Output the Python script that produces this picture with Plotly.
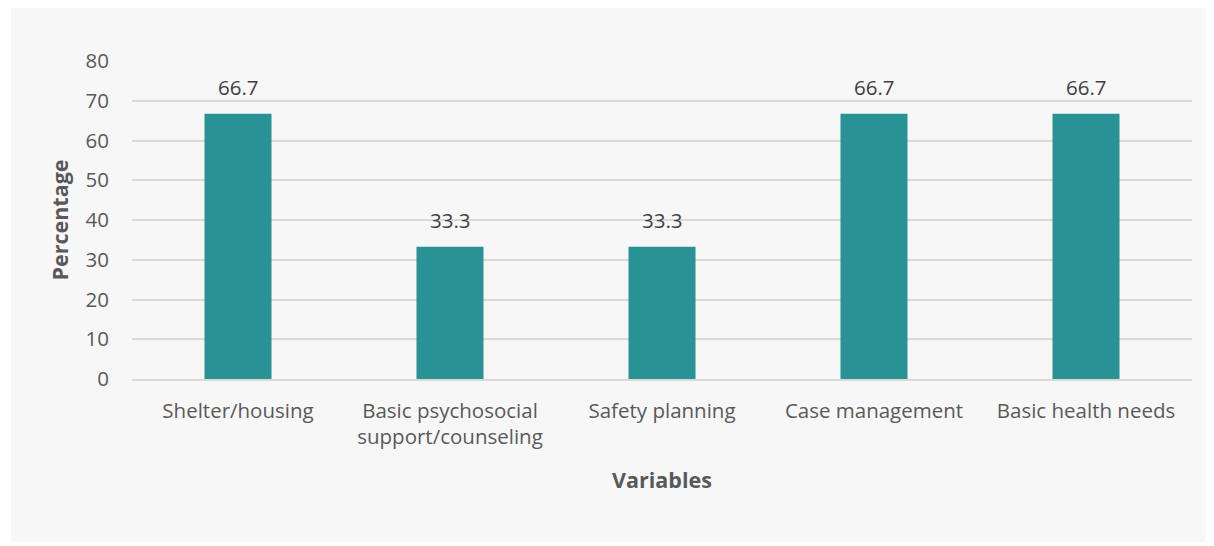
import plotly.graph_objects as go

categories = ["Shelter/housing", "Basic psychosocial<br>support/counseling",
              "Safety planning", "Case management", "Basic health needs"]
percentages = [66.7, 33.3, 33.3, 66.7, 66.7]
y_ticks = [0, 10, 20, 30, 40, 50, 60, 70, 80]

BAR_COLOR = "#289294"
FONT = "Open Sans"

fig = go.Figure()
fig.add_trace(go.Bar(
    x=categories,
    y=percentages,
    marker_color=BAR_COLOR,
    marker_line_width=0,
    hovertemplate='%{x}: %{y}<extra></extra>',
))

# value labels above the bars
for cat, val in zip(categories, percentages):
    fig.add_annotation(
        x=cat, y=val, text=f"{val:.1f}",
        showarrow=False, yanchor="bottom", yshift=11,
        font=dict(family=FONT, size=20.5, color="#404040"),
    )

# light grey chart area with a thin white border around it
fig.add_shape(
    type="rect", xref="paper", yref="paper",
    x0=-0.1142, x1=1.0151, y0=-0.5126, y1=1.173,
    fillcolor="#f7f7f7", line_width=0, layer="below",
)

# the page body adds an 8px margin, so the figure is a bit smaller
fig.update_layout(
    width=1206,
    height=538,
    margin=dict(l=124, r=22, t=53, b=167),
    paper_bgcolor="white",
    plot_bgcolor="rgba(0,0,0,0)",
    bargap=0.684,
    showlegend=False,
    font=dict(family=FONT, size=20.5, color="#595959"),
    xaxis=dict(
        title=dict(text="<b>Variables</b>", font=dict(size=21.5, color="#595959"), standoff=24),
        showgrid=False,
        showline=True, linecolor="#d9d9d9", linewidth=2,
        ticks="outside", ticklen=12, tickcolor="rgba(0,0,0,0)",
        tickfont=dict(size=20.5, color="#595959"),
    ),
    yaxis=dict(
        title=dict(text="<b>Percentage</b>", font=dict(size=21.5, color="#595959"), standoff=10),
        range=[0, 80],
        tickvals=y_ticks,
        showgrid=True, gridcolor="#d9d9d9", gridwidth=2,
        zeroline=False,
        ticks="outside", ticklen=18, tickcolor="rgba(0,0,0,0)",
        tickfont=dict(size=20.5, color="#595959"),
    ),
)

fig.write_html("out.html")
